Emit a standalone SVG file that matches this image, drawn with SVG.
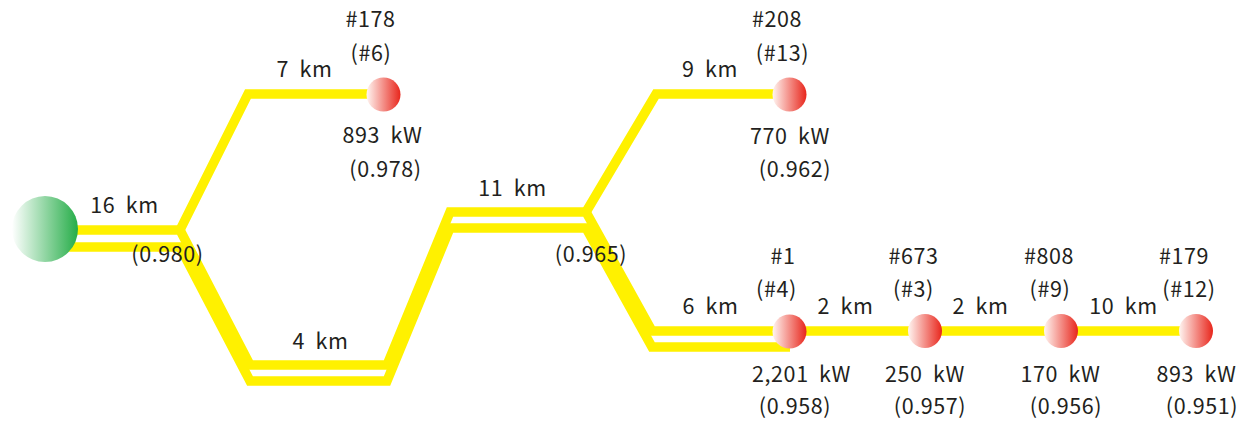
<svg xmlns="http://www.w3.org/2000/svg" width="1240" height="424" viewBox="0 0 1240 424">
<style>
.ln{fill:none;stroke:#fff100;stroke-width:9.5;stroke-linejoin:miter;stroke-miterlimit:10}
.t{font-family:"Noto Sans CJK JP","Noto Sans",sans-serif;font-size:21.5px;fill:#231f20;text-anchor:middle;word-spacing:5px;letter-spacing:0.6px}
</style>
<defs>
<linearGradient id="gr" x1="0" y1="0" x2="1" y2="0">
<stop offset="0" stop-color="#ffffff"/>
<stop offset="1" stop-color="#25ad48"/>
</linearGradient>
<linearGradient id="rd" x1="0" y1="0" x2="1" y2="0">
<stop offset="0" stop-color="#fff6f2"/>
<stop offset="1" stop-color="#e8261c"/>
</linearGradient>
</defs>
<g id="connectors">
<path class="ln" d="M45 230 L180 230 L250 365 L387 365 L450 212 L586 212 L652 331 L790 331"/>
<path class="ln" d="M45 247 L180 247 L250 381 L387 381 L450 228 L586 228 L652 347 L790 347"/>
<path class="ln" d="M180 230 L248 94 L383 94"/>
<path class="ln" d="M586 212 L656 94 L790 94"/>
<path class="ln" d="M790 331 L1196 331"/>
</g>
<g id="source"><circle cx="45" cy="229" r="33" fill="url(#gr)"/></g>
<g id="n178"><circle cx="383.5" cy="94.5" r="17" fill="url(#rd)"/>
<text class="t" x="370.5" y="27">#178</text><text class="t" x="371" y="61">(#6)</text>
<text class="t" x="382.5" y="143">893 kW</text><text class="t" x="385.5" y="177">(0.978)</text></g>
<g id="n208"><circle cx="789.5" cy="94.5" r="17" fill="url(#rd)"/>
<text class="t" x="777" y="27">#208</text><text class="t" x="782.5" y="61">(#13)</text>
<text class="t" x="790" y="144">770 kW</text><text class="t" x="795" y="177">(0.962)</text></g>
<g id="n1"><circle cx="789.5" cy="331.5" r="17" fill="url(#rd)"/>
<text class="t" x="783" y="264">#1</text><text class="t" x="776.5" y="297">(#4)</text>
<text class="t" x="801.5" y="382">2,201 kW</text><text class="t" x="795" y="414">(0.958)</text></g>
<g id="n673"><circle cx="925" cy="331" r="17" fill="url(#rd)"/>
<text class="t" x="913.5" y="264">#673</text><text class="t" x="913.5" y="297">(#3)</text>
<text class="t" x="925" y="382">250 kW</text><text class="t" x="930" y="414">(0.957)</text></g>
<g id="n808"><circle cx="1061" cy="331" r="17" fill="url(#rd)"/>
<text class="t" x="1049" y="264">#808</text><text class="t" x="1050" y="297">(#9)</text>
<text class="t" x="1060.5" y="382">170 kW</text><text class="t" x="1066" y="414">(0.956)</text></g>
<g id="n179"><circle cx="1196" cy="331" r="17" fill="url(#rd)"/>
<text class="t" x="1184" y="264">#179</text><text class="t" x="1189" y="297">(#12)</text>
<text class="t" x="1196.5" y="382">893 kW</text><text class="t" x="1202" y="414">(0.951)</text></g>
<g id="labels">
<text class="t" x="124.5" y="213">16 km</text>
<text class="t" x="167.5" y="262">(0.980)</text>
<text class="t" x="304.5" y="77">7 km</text>
<text class="t" x="320.5" y="349">4 km</text>
<text class="t" x="512.5" y="196">11 km</text>
<text class="t" x="591" y="262">(0.965)</text>
<text class="t" x="710" y="77">9 km</text>
<text class="t" x="710.5" y="314">6 km</text>
<text class="t" x="845.5" y="314">2 km</text>
<text class="t" x="980.5" y="314">2 km</text>
<text class="t" x="1123.5" y="314">10 km</text>
</g>
</svg>
